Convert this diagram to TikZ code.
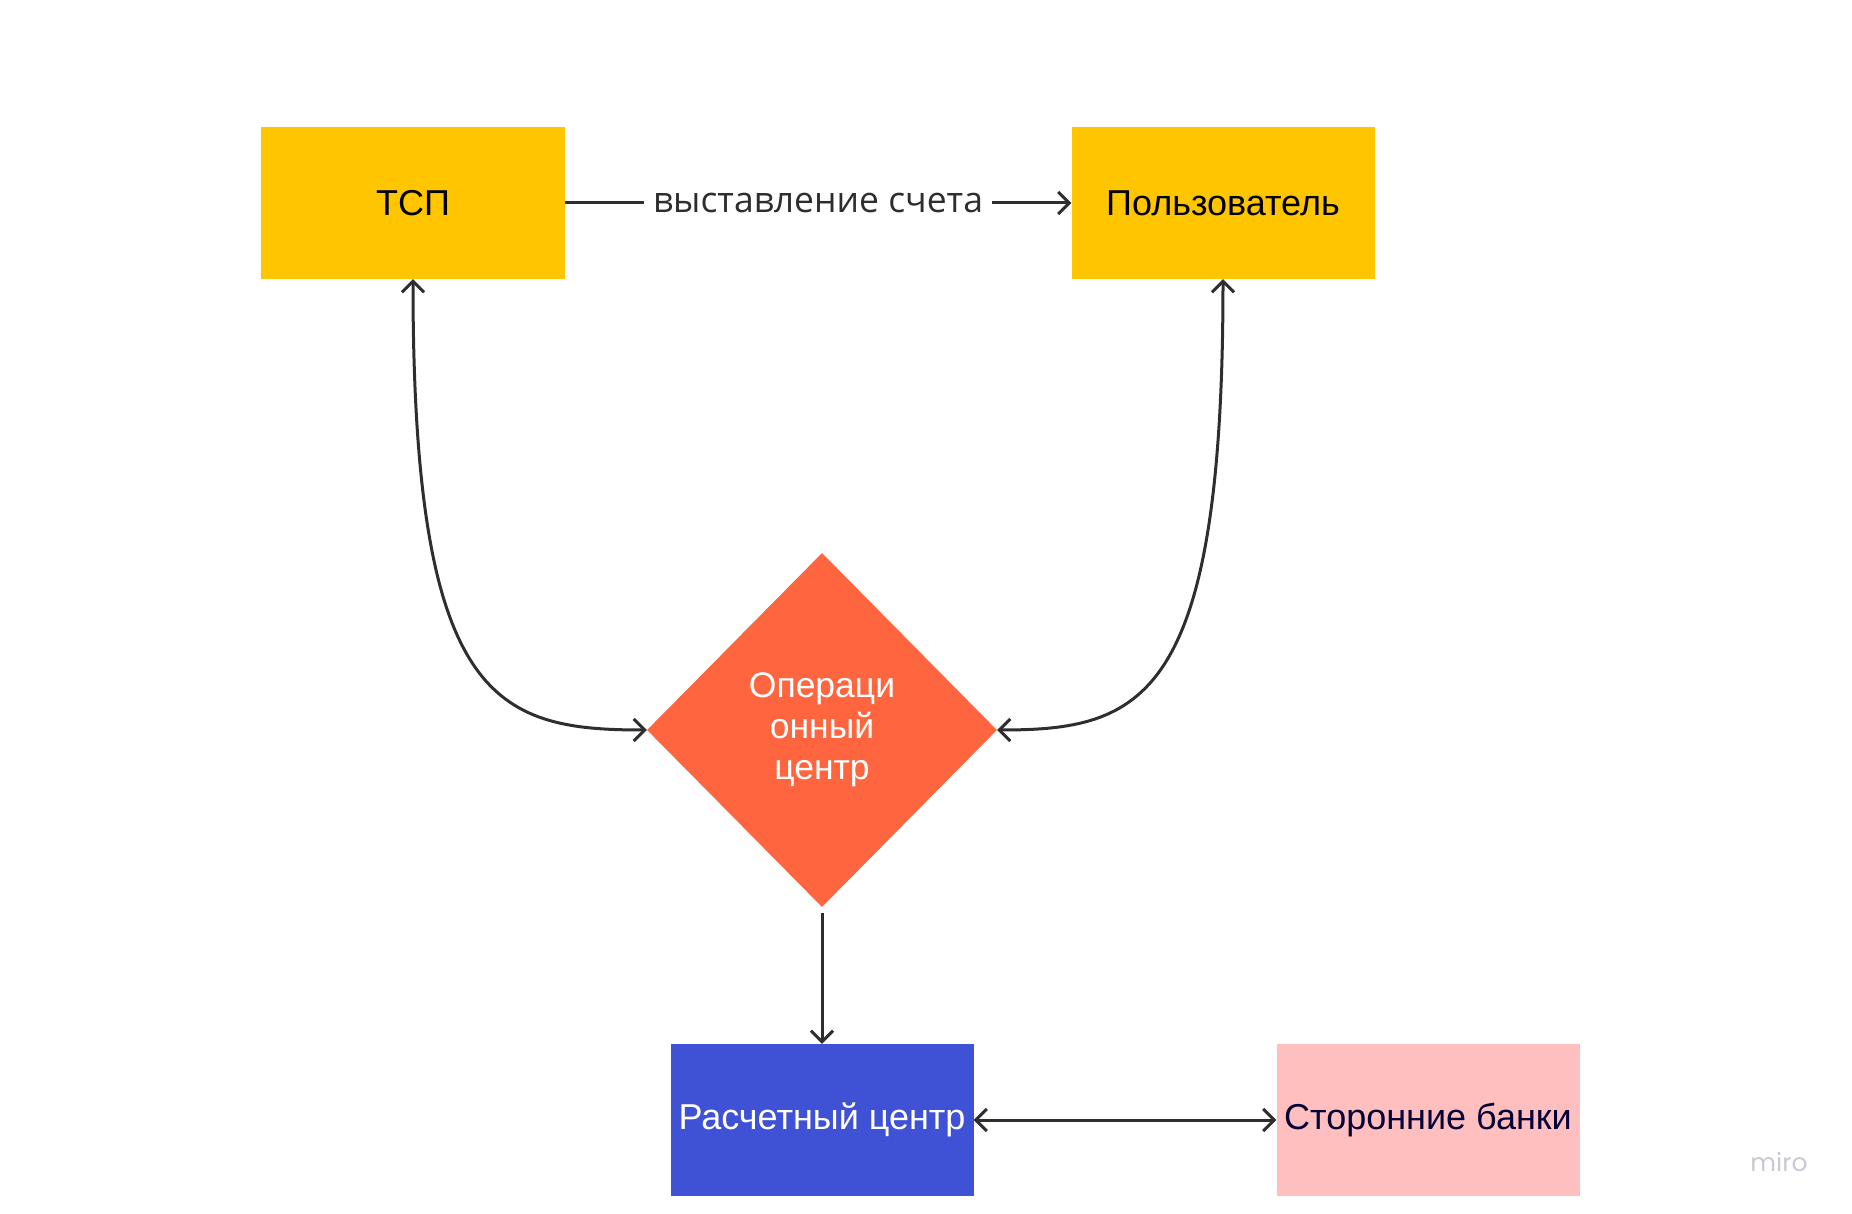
\documentclass[tikz,border=0pt]{standalone}
\usepackage{fontspec}
\setmainfont{Liberation Sans}
\newfontfamily\labelfont{Open Sans}
\newfontfamily\logofont{Poppins}
\usetikzlibrary{shapes.geometric,arrows.meta,positioning}
\definecolor{boxYellow}{HTML}{FFC600}
\definecolor{centerOrange}{HTML}{FF6640}
\definecolor{centerBlue}{HTML}{3F52D6}
\definecolor{bankPink}{HTML}{FFBFBF}
\definecolor{lineGray}{HTML}{2E2E2E}
\definecolor{textNavy}{HTML}{050038}
\definecolor{logoGray}{HTML}{C9C9D4}
\tikzstyle{block} = [rectangle, minimum width=303pt, minimum height=152pt, inner sep=0pt,
text centered, font=\fontsize{36}{41}\selectfont]
\tikzstyle{decision} = [diamond, aspect=1, minimum width=350pt, minimum height=354pt, inner sep=0pt,
fill=centerOrange, text=white, align=center, font=\fontsize{35.5}{41}\selectfont]
\tikzstyle{flowArrow} = [line width=3pt, draw=lineGray, -{Straight Barb[length=11pt,width=22pt]}]
\tikzstyle{bothArrow} = [flowArrow, {Straight Barb[length=11pt,width=22pt]}-{Straight Barb[length=11pt,width=22pt]}]

\begin{document}
\begin{tikzpicture}[on grid]
		%blocks
		\node[block, fill=boxYellow, text=black](tsp){ТСП};
		\node[block, fill=boxYellow, text=black, right=810pt of tsp](user){Пользователь};
		\node[decision, below right=527pt and 409pt of tsp](oc){Операци\\онный\\центр};
		\node[block, fill=centerBlue, text=white, below=390pt of oc](rc){Расчетный центр};
		\node[block, fill=bankPink, text=textNavy, right=606pt of rc](banks){Сторонние банки};
		\node[logoGray, font=\logofont\fontsize{25}{30}\selectfont, anchor=base]
			(logo) at ([xshift=1366pt, yshift=-968pt]tsp.center){miro};

		%frame
		\useasboundingbox ([xshift=-413pt, yshift=203pt]tsp.center) rectangle ++(1852pt,-1214pt);

		%arrows
		\draw[flowArrow](tsp)--(user)
			node[midway, fill=white, inner sep=9pt, text=lineGray,
			font=\labelfont\fontsize{35.5}{40}\selectfont]{выставление счета};
		\draw[bothArrow](tsp.south) .. controls +(0,-422pt) and +(-152pt,0) .. (oc.west);
		\draw[bothArrow](user.south) .. controls +(0,-422pt) and +(145pt,0) .. (oc.east);
		\draw[flowArrow]([yshift=-6pt]oc.south)--(rc.north);
		\draw[bothArrow](rc)--(banks);
	\end{tikzpicture}
\end{document}
